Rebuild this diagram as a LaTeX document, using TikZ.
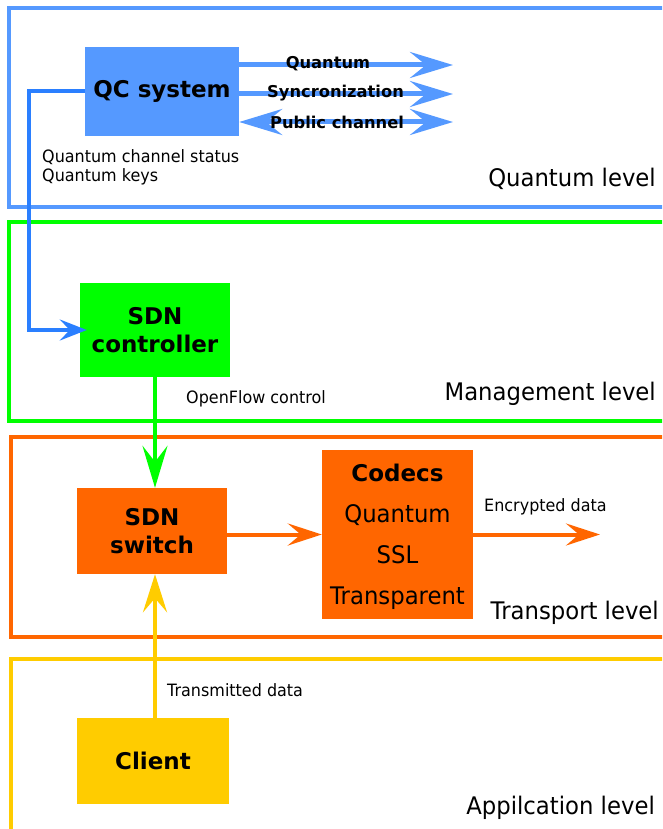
\documentclass[tikz,border=0pt]{standalone}
\usepackage{fontspec}
\setmainfont{DejaVu Sans}[FakeStretch=0.94]
\newfontfamily\bfam{DejaVu Sans}
\usetikzlibrary{arrows.meta}
\definecolor{qblue}{HTML}{5599FF}
\definecolor{cblue}{HTML}{2A7FFF}
\definecolor{mgreen}{HTML}{00FF00}
\definecolor{torange}{HTML}{FF6600}
\definecolor{ayellow}{HTML}{FFCC00}
\tikzset{
  frame/.style={line width=3.5pt},
  box/.style={inner sep=0pt, align=center, font=\bigbold},
  small/.style={inner sep=0pt, font=\smallfont},
  level/.style={inner sep=0pt, anchor=east, font=\bigfont},
  arrlabel/.style={inner sep=0pt, font=\smallbold},
  bighead/.tip={Stealth[length=43pt,width=26pt,inset=16pt]},
}
\newcommand{\smallfont}{\fontsize{17}{20}\selectfont}
\newcommand{\smallbold}{\bfam\fontsize{16.3}{20}\selectfont\bfseries}
\newcommand{\bigfont}{\fontsize{24.2}{28}\selectfont}
\newcommand{\bigbold}{\bfam\fontsize{23}{28}\selectfont\bfseries}
\begin{document}
\begin{tikzpicture}[x=1pt,y=-1pt]
\useasboundingbox (0,0) rectangle (662,829);
\clip (0,0) rectangle (662,829);
\fill[white] (0,0) rectangle (662,829);

% level frames
\draw[frame, qblue] (9,8) rectangle (720,207);
\draw[frame, mgreen] (9,222) rectangle (720,421);
\draw[frame, torange] (11,437) rectangle (720,637);
\draw[frame, ayellow] (11,659) rectangle (720,880);

% boxes
\node[box, fill=qblue, minimum width=154pt, minimum height=89pt] (qc) at (162,91.5) {QC system};
\node[box, fill=mgreen, minimum width=150pt, minimum height=94pt] (ctrl) at (155,330) {SDN\\controller};
\node[box, fill=torange, minimum width=150pt, minimum height=86pt] (sw) at (152,531) {SDN\\switch};
\node[box, fill=torange, minimum width=151pt, minimum height=169pt] (codecs) at (397.5,534.5) {};
\node[inner sep=0pt, align=center, font=\bigfont] (codecstext) at (397.5,537)
  {{\bigbold Codecs}\\[13pt]Quantum\\[13pt]SSL\\[13pt]Transparent};
\node[box, fill=ayellow, minimum width=152pt, minimum height=86pt] (client) at (153,761) {Client};

% QC arrows
\coordinate (q1) at (453,65);
\coordinate (q2) at (453,94);
\coordinate (q3) at (453,122);
\tikzset{qarrow/.style={qblue, line width=5pt, -bighead}}
\draw[qarrow] (qc.east |- q1) -- (q1);
\draw[qarrow] (qc.east |- q2) -- (q2);
\draw[qblue, line width=5pt, bighead-bighead] (qc.east |- q3) -- (q3);
\node[arrlabel] (lq) at (328,64) {Quantum};
\node[arrlabel] (ls) at (335.5,93) {Syncronization};
\node[arrlabel] (lp) at (337,122) {Public channel};

% QC to controller
\coordinate (cturn) at (29,91);
\draw[cblue, line width=3.5pt, -{Stealth[length=27pt,width=21pt,inset=10pt]}] (qc.west |- cturn) -- (cturn) |- ([xshift=7pt]ctrl.west);

\node[small, anchor=west] (qcs) at (42,157) {Quantum channel status};
\node[small, anchor=west] (qk) at (42,177) {Quantum keys};
\node[level] (lvq) at (656,179) {Quantum level};

% controller to switch
\draw[mgreen, line width=4pt, -{Stealth[length=42pt,width=25pt,inset=16pt]}] (ctrl.south) -- (ctrl.south |- sw.north);
\node[small, anchor=west] (ofc) at (186,399) {OpenFlow control};
\node[level] (lvm) at (656,394) {Management level};

% transport
\draw[torange, line width=4pt, -{Stealth[length=34pt,width=22pt,inset=13pt]}] (sw.east |- codecs.west) -- (codecs.west);
\coordinate (encend) at (600,534.5);
\draw[torange, line width=4pt, -{Stealth[length=34pt,width=22pt,inset=13pt]}] (codecs.east) -- (encend);
\node[small, anchor=west] (enc) at (484,507) {Encrypted data};
\node[level] (lvt) at (659,613) {Transport level};

% client to switch
\draw[ayellow, line width=4pt, -{Stealth[length=38pt,width=24pt,inset=14pt]}] (ctrl.south |- client.north) -- (ctrl.south |- sw.south);
\node[small, anchor=west] (trd) at (167,690) {Transmitted data};
\node[level] (lva) at (655,808) {Appilcation level};
\end{tikzpicture}
\end{document}
